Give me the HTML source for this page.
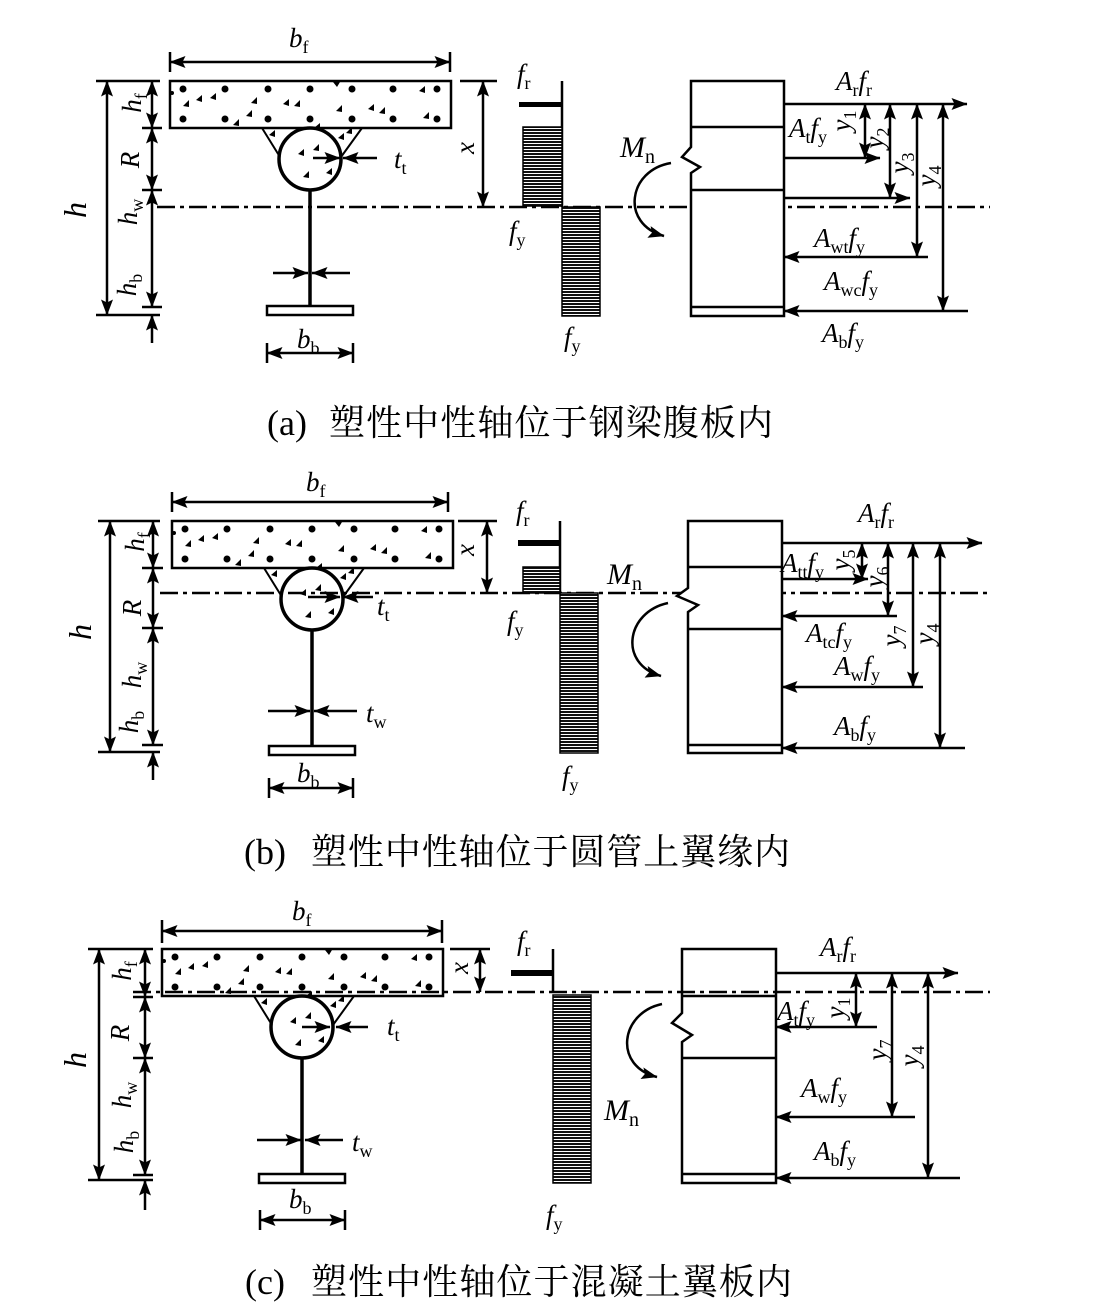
<!DOCTYPE html>
<html><head><meta charset="utf-8">
<style>
html,body{margin:0;padding:0;background:#fff;}
svg{display:block}
text{font-family:"Liberation Serif","DejaVu Serif",serif;font-size:27px;fill:#000}
.i{font-style:italic}
.s{font-size:18px;font-style:normal}
.cap{font-family:"Liberation Serif","Noto Serif CJK SC",serif;font-size:36px}
.cj{font-family:"Noto Serif CJK SC","Liberation Serif",serif;font-size:36px}
.l{stroke:#000;stroke-width:2.5;fill:none}
.d{stroke:#000;stroke-width:2.5;fill:none;marker-start:url(#a);marker-end:url(#a)}
.e{stroke:#000;stroke-width:2.5;fill:none;marker-end:url(#a)}
.na{stroke:#000;stroke-width:2.5;fill:none;stroke-dasharray:18 5 4 5}
.hat{fill:url(#hp);stroke:#000;stroke-width:1.5}
</style></head>
<body>
<svg width="1095" height="1312" viewBox="0 0 1095 1312" xmlns="http://www.w3.org/2000/svg">
<defs>
<marker id="a" viewBox="0 0 16 12" refX="15.5" refY="6" markerWidth="16" markerHeight="12" markerUnits="userSpaceOnUse" orient="auto-start-reverse"><path d="M0,0 L16,6 L0,12 L3,6 Z" fill="#000"/></marker>
<pattern id="hp" width="4" height="3" patternUnits="userSpaceOnUse"><rect width="4" height="3" fill="#fff"/><rect width="4" height="2" fill="#111"/></pattern>
<g id="sec">
<rect x="0" y="0" width="281" height="47" fill="#fff" stroke="#000" stroke-width="2.5"/>
<path d="M92,47 L110,76 M192,47 L171,76" stroke="#000" stroke-width="2" fill="none"/>
<circle cx="140" cy="78" r="31" fill="none" stroke="#000" stroke-width="3.5"/>
<line x1="140" y1="109" x2="140" y2="225" stroke="#000" stroke-width="3.5"/>
<rect x="97" y="225" width="86" height="9" fill="#fff" stroke="#000" stroke-width="2.5"/>
<g fill="#000">
<circle cx="13" cy="8" r="3.5"/><circle cx="55" cy="8" r="3.5"/><circle cx="98" cy="8" r="3.5"/><circle cx="140" cy="8" r="3.5"/><circle cx="182" cy="8" r="3.5"/><circle cx="223" cy="8" r="3.5"/><circle cx="267" cy="8" r="3.5"/>
<circle cx="13" cy="38" r="3.5"/><circle cx="55" cy="38" r="3.5"/><circle cx="98" cy="38" r="3.5"/><circle cx="140" cy="38" r="3.5"/><circle cx="182" cy="38" r="3.5"/><circle cx="223" cy="38" r="3.5"/><circle cx="267" cy="38" r="3.5"/>
<circle cx="2" cy="12" r="2"/>
<path d="M13,25 l6,-6 l0,7z M26,19 l6,-5 l0,7z M40,17 l6,-5 l0,7z M81,22 l6,-6 l0,7z M76,35 l6,-6 l0,7z M63,44 l6,-6 l0,7z M113,23 l6,-5 l0,7z M124,25 l6,-6 l0,7z M166,30 l6,-6 l0,7z M198,28 l6,-5 l0,7z M209,32 l6,-6 l0,7z M249,10 l6,-5 l0,7z M253,37 l6,-6 l0,7z M144,47 l6,-5 l0,6z M163,1 l7,0 l-3,5z M99,54 l6,-5 l0,7z M168,57 l6,-5 l0,7z M176,52 l6,-6 l0,7z M128,73 l6,-5 l0,7z M143,69 l6,-6 l0,7z M133,96 l6,-6 l0,7z M156,92 l6,-5 l0,7z"/>
</g>
</g>
</defs>

<!-- ================= PANEL (a) ================= -->
<use href="#sec" x="170" y="81"/>
<line x1="170" y1="62" x2="450" y2="62" class="d"/>
<path d="M170,52 V72 M450,52 V72" class="l"/>
<path d="M96,81 H160 M96,315 H160 M142,128 H162 M142,190 H162 M142,307 H162 M460,81 H497" class="l"/>
<line x1="107" y1="81" x2="107" y2="315" class="d"/>
<line x1="152" y1="81" x2="152" y2="128" class="d"/>
<line x1="152" y1="128" x2="152" y2="190" class="d"/>
<line x1="152" y1="190" x2="152" y2="307" class="d"/>
<line x1="152" y1="343" x2="152" y2="315" class="e"/>
<line x1="483" y1="81" x2="483" y2="207" class="d"/>
<line x1="313" y1="158" x2="340" y2="158" class="e"/>
<line x1="377" y1="158" x2="343" y2="158" class="e"/>
<line x1="273" y1="273" x2="308" y2="273" class="e"/>
<line x1="350" y1="273" x2="312" y2="273" class="e"/>
<line x1="267" y1="353" x2="353" y2="353" class="d"/>
<path d="M267,343 V363 M353,343 V363" class="l"/>
<path d="M157,207 H990" class="na"/>
<!-- stress a -->
<line x1="562" y1="81" x2="562" y2="207" class="l"/>
<rect x="519" y="102" width="43" height="5" fill="#000"/>
<rect x="523" y="127" width="39" height="79" class="hat"/>
<rect x="562" y="207" width="38" height="109" class="hat"/>
<!-- force a -->
<path d="M691,147 V81 H784 V316 H691 V173 L700,167 L682,157 Z" fill="#fff" stroke="#000" stroke-width="2.5"/>
<path d="M691,127 H784 M691,190 H784 M691,307 H784" class="l"/>
<line x1="784" y1="104" x2="967" y2="104" class="e"/>
<line x1="784" y1="158" x2="880" y2="158" class="e"/>
<line x1="784" y1="198" x2="910" y2="198" class="e"/>
<line x1="928" y1="257" x2="784" y2="257" class="e"/>
<line x1="968" y1="311" x2="784" y2="311" class="e"/>
<line x1="865" y1="104" x2="865" y2="158" class="d"/>
<line x1="890" y1="104" x2="890" y2="198" class="d"/>
<line x1="917" y1="104" x2="917" y2="257" class="d"/>
<line x1="943" y1="104" x2="943" y2="311" class="d"/>
<path d="M671,163 C628,170 620,224 664,236" class="e"/>
<!-- labels a -->
<text x="289" y="47"><tspan class="i">b</tspan><tspan class="s" dy="6">f</tspan></text>
<text transform="translate(86,210) rotate(-90)" text-anchor="middle" class="i" style="font-size:32px">h</text>
<text transform="translate(141,103) rotate(-90)" text-anchor="middle"><tspan class="i">h</tspan><tspan class="s" dy="6">f</tspan></text>
<text transform="translate(139,160) rotate(-90)" text-anchor="middle" class="i">R</text>
<text transform="translate(137,212) rotate(-90)" text-anchor="middle"><tspan class="i">h</tspan><tspan class="s" dy="6">w</tspan></text>
<text transform="translate(136,285) rotate(-90)" text-anchor="middle"><tspan class="i">h</tspan><tspan class="s" dy="6">b</tspan></text>
<text transform="translate(474,148) rotate(-90)" text-anchor="middle" class="i">x</text>
<text x="394" y="168"><tspan class="i">t</tspan><tspan class="s" dy="6">t</tspan></text>
<text x="297" y="348"><tspan class="i">b</tspan><tspan class="s" dy="6">b</tspan></text>
<text x="517" y="83"><tspan class="i">f</tspan><tspan class="s" dy="6">r</tspan></text>
<text x="509" y="240"><tspan class="i">f</tspan><tspan class="s" dy="6">y</tspan></text>
<text x="564" y="346"><tspan class="i">f</tspan><tspan class="s" dy="6">y</tspan></text>
<text x="620" y="157" style="font-size:30px"><tspan class="i">M</tspan><tspan class="s" dy="6" style="font-size:20px">n</tspan></text>
<text x="836" y="90"><tspan class="i">A</tspan><tspan class="s" dy="6">r</tspan><tspan class="i" dy="-6">f</tspan><tspan class="s" dy="6">r</tspan></text>
<text x="789" y="137"><tspan class="i">A</tspan><tspan class="s" dy="6">t</tspan><tspan class="i" dy="-6">f</tspan><tspan class="s" dy="6">y</tspan></text>
<text x="814" y="247"><tspan class="i">A</tspan><tspan class="s" dy="6">wt</tspan><tspan class="i" dy="-6">f</tspan><tspan class="s" dy="6">y</tspan></text>
<text x="824" y="290"><tspan class="i">A</tspan><tspan class="s" dy="6">wc</tspan><tspan class="i" dy="-6">f</tspan><tspan class="s" dy="6">y</tspan></text>
<text x="822" y="342"><tspan class="i">A</tspan><tspan class="s" dy="6">b</tspan><tspan class="i" dy="-6">f</tspan><tspan class="s" dy="6">y</tspan></text>
<text transform="translate(850,121) rotate(-90)" text-anchor="middle"><tspan class="i">y</tspan><tspan class="s" dy="6">1</tspan></text>
<text transform="translate(883,138) rotate(-90)" text-anchor="middle"><tspan class="i">y</tspan><tspan class="s" dy="6">2</tspan></text>
<text transform="translate(908,163) rotate(-90)" text-anchor="middle"><tspan class="i">y</tspan><tspan class="s" dy="6">3</tspan></text>
<text transform="translate(935,176) rotate(-90)" text-anchor="middle"><tspan class="i">y</tspan><tspan class="s" dy="6">4</tspan></text>
<text x="267" y="435" class="cap">(a)</text>
<text x="329" y="435" class="cj" textLength="444" lengthAdjust="spacing">塑性中性轴位于钢梁腹板内</text>

<!-- ================= PANEL (b) ================= -->
<use href="#sec" x="172" y="521"/>
<line x1="172" y1="502" x2="448" y2="502" class="d"/>
<path d="M172,492 V512 M448,492 V512" class="l"/>
<path d="M98,521 H160 M98,752 H160 M142,568 H163 M142,628 H163 M142,745 H163 M458,521 H497" class="l"/>
<line x1="110" y1="521" x2="110" y2="752" class="d"/>
<line x1="153" y1="521" x2="153" y2="568" class="d"/>
<line x1="153" y1="568" x2="153" y2="628" class="d"/>
<line x1="153" y1="628" x2="153" y2="745" class="d"/>
<line x1="153" y1="780" x2="153" y2="752" class="e"/>
<line x1="487" y1="521" x2="487" y2="593" class="d"/>
<path d="M160,593 H990" class="na"/>
<line x1="308" y1="597" x2="340" y2="597" class="e"/>
<line x1="373" y1="597" x2="343" y2="597" class="e"/>
<line x1="268" y1="711" x2="310" y2="711" class="e"/>
<line x1="357" y1="711" x2="314" y2="711" class="e"/>
<line x1="269" y1="788" x2="353" y2="788" class="d"/>
<path d="M269,778 V798 M353,778 V798" class="l"/>
<!-- stress b -->
<line x1="560" y1="521" x2="560" y2="593" class="l"/>
<rect x="518" y="540" width="42" height="6" fill="#000"/>
<rect x="523" y="567" width="37" height="26" class="hat"/>
<rect x="560" y="593" width="38" height="160" class="hat"/>
<!-- force b -->
<path d="M688,588 V521 H782 V753 H688 V612 L698,605 L677,596 Z" fill="#fff" stroke="#000" stroke-width="2.5"/>
<path d="M688,567 H782 M688,629 H782 M688,745 H782" class="l"/>
<line x1="782" y1="543" x2="982" y2="543" class="e"/>
<line x1="782" y1="579" x2="868" y2="579" class="e"/>
<line x1="897" y1="616" x2="782" y2="616" class="e"/>
<line x1="923" y1="687" x2="782" y2="687" class="e"/>
<line x1="965" y1="748" x2="782" y2="748" class="e"/>
<line x1="862" y1="543" x2="862" y2="579" class="d"/>
<line x1="888" y1="543" x2="888" y2="616" class="d"/>
<line x1="913" y1="543" x2="913" y2="687" class="d"/>
<line x1="940" y1="543" x2="940" y2="748" class="d"/>
<path d="M668,603 C626,612 618,664 661,676" class="e"/>
<!-- labels b -->
<text x="306" y="491"><tspan class="i">b</tspan><tspan class="s" dy="6">f</tspan></text>
<text transform="translate(91,632) rotate(-90)" text-anchor="middle" class="i" style="font-size:32px">h</text>
<text transform="translate(144,542) rotate(-90)" text-anchor="middle"><tspan class="i">h</tspan><tspan class="s" dy="6">f</tspan></text>
<text transform="translate(141,608) rotate(-90)" text-anchor="middle" class="i">R</text>
<text transform="translate(141,675) rotate(-90)" text-anchor="middle"><tspan class="i">h</tspan><tspan class="s" dy="6">w</tspan></text>
<text transform="translate(138,722) rotate(-90)" text-anchor="middle"><tspan class="i">h</tspan><tspan class="s" dy="6">b</tspan></text>
<text transform="translate(474,550) rotate(-90)" text-anchor="middle" class="i">x</text>
<text x="377" y="615"><tspan class="i">t</tspan><tspan class="s" dy="6">t</tspan></text>
<text x="366" y="722"><tspan class="i">t</tspan><tspan class="s" dy="6">w</tspan></text>
<text x="297" y="782"><tspan class="i">b</tspan><tspan class="s" dy="6">b</tspan></text>
<text x="516" y="520"><tspan class="i">f</tspan><tspan class="s" dy="6">r</tspan></text>
<text x="507" y="630"><tspan class="i">f</tspan><tspan class="s" dy="6">y</tspan></text>
<text x="562" y="785"><tspan class="i">f</tspan><tspan class="s" dy="6">y</tspan></text>
<text x="607" y="584" style="font-size:30px"><tspan class="i">M</tspan><tspan class="s" dy="6" style="font-size:20px">n</tspan></text>
<text x="858" y="522"><tspan class="i">A</tspan><tspan class="s" dy="6">r</tspan><tspan class="i" dy="-6">f</tspan><tspan class="s" dy="6">r</tspan></text>
<text x="781" y="572"><tspan class="i">A</tspan><tspan class="s" dy="6">tt</tspan><tspan class="i" dy="-6">f</tspan><tspan class="s" dy="6">y</tspan></text>
<text x="806" y="642"><tspan class="i">A</tspan><tspan class="s" dy="6">tc</tspan><tspan class="i" dy="-6">f</tspan><tspan class="s" dy="6">y</tspan></text>
<text x="834" y="675"><tspan class="i">A</tspan><tspan class="s" dy="6">w</tspan><tspan class="i" dy="-6">f</tspan><tspan class="s" dy="6">y</tspan></text>
<text x="834" y="735"><tspan class="i">A</tspan><tspan class="s" dy="6">b</tspan><tspan class="i" dy="-6">f</tspan><tspan class="s" dy="6">y</tspan></text>
<text transform="translate(849,560) rotate(-90)" text-anchor="middle"><tspan class="i">y</tspan><tspan class="s" dy="6">5</tspan></text>
<text transform="translate(883,577) rotate(-90)" text-anchor="middle"><tspan class="i">y</tspan><tspan class="s" dy="6">6</tspan></text>
<text transform="translate(900,636) rotate(-90)" text-anchor="middle"><tspan class="i">y</tspan><tspan class="s" dy="6">7</tspan></text>
<text transform="translate(933,634) rotate(-90)" text-anchor="middle"><tspan class="i">y</tspan><tspan class="s" dy="6">4</tspan></text>
<text x="244" y="864" class="cap">(b)</text>
<text x="311" y="864" class="cj" textLength="479" lengthAdjust="spacing">塑性中性轴位于圆管上翼缘内</text>

<!-- ================= PANEL (c) ================= -->
<use href="#sec" x="162" y="949"/>
<line x1="162" y1="931" x2="442" y2="931" class="d"/>
<path d="M162,920 V943 M442,920 V943" class="l"/>
<path d="M88,949 H153 M88,1180 H153 M133,997 H153 M133,1058 H153 M133,1175 H153 M450,949 H490" class="l"/>
<line x1="99" y1="949" x2="99" y2="1180" class="d"/>
<line x1="145" y1="949" x2="145" y2="997" class="d"/>
<line x1="145" y1="997" x2="145" y2="1058" class="d"/>
<line x1="145" y1="1058" x2="145" y2="1175" class="d"/>
<line x1="145" y1="1210" x2="145" y2="1180" class="e"/>
<line x1="480" y1="949" x2="480" y2="992" class="d"/>
<line x1="302" y1="1027" x2="330" y2="1027" class="e"/>
<line x1="368" y1="1027" x2="336" y2="1027" class="e"/>
<line x1="257" y1="1140" x2="301" y2="1140" class="e"/>
<line x1="343" y1="1140" x2="305" y2="1140" class="e"/>
<line x1="260" y1="1220" x2="345" y2="1220" class="d"/>
<path d="M260,1210 V1230 M345,1210 V1230" class="l"/>
<!-- stress c -->
<line x1="553" y1="949" x2="553" y2="992" class="l"/>
<rect x="511" y="970" width="42" height="6" fill="#000"/>
<rect x="553" y="995" width="38" height="188" class="hat"/>
<!-- force c -->
<path d="M682,1013 V949 H776 V1183 H682 V1042 L692,1035 L672,1023 Z" fill="#fff" stroke="#000" stroke-width="2.5"/>
<path d="M682,996 H776 M682,1058 H776 M682,1174 H776" class="l"/>
<path d="M133,992 H990" class="na"/>
<line x1="776" y1="973" x2="958" y2="973" class="e"/>
<line x1="877" y1="1027" x2="776" y2="1027" class="e"/>
<line x1="915" y1="1117" x2="776" y2="1117" class="e"/>
<line x1="960" y1="1178" x2="776" y2="1178" class="e"/>
<line x1="856" y1="973" x2="856" y2="1027" class="d"/>
<line x1="892" y1="973" x2="892" y2="1117" class="d"/>
<line x1="928" y1="973" x2="928" y2="1178" class="d"/>
<path d="M662,1004 C620,1013 613,1066 657,1077" class="e"/>
<!-- labels c -->
<text x="292" y="920"><tspan class="i">b</tspan><tspan class="s" dy="6">f</tspan></text>
<text transform="translate(86,1060) rotate(-90)" text-anchor="middle" class="i" style="font-size:32px">h</text>
<text transform="translate(131,971) rotate(-90)" text-anchor="middle"><tspan class="i">h</tspan><tspan class="s" dy="6">f</tspan></text>
<text transform="translate(129,1033) rotate(-90)" text-anchor="middle" class="i">R</text>
<text transform="translate(131,1095) rotate(-90)" text-anchor="middle"><tspan class="i">h</tspan><tspan class="s" dy="6">w</tspan></text>
<text transform="translate(133,1142) rotate(-90)" text-anchor="middle"><tspan class="i">h</tspan><tspan class="s" dy="6">b</tspan></text>
<text transform="translate(468,968) rotate(-90)" text-anchor="middle" class="i">x</text>
<text x="387" y="1035"><tspan class="i">t</tspan><tspan class="s" dy="6">t</tspan></text>
<text x="352" y="1151"><tspan class="i">t</tspan><tspan class="s" dy="6">w</tspan></text>
<text x="289" y="1208"><tspan class="i">b</tspan><tspan class="s" dy="6">b</tspan></text>
<text x="517" y="950"><tspan class="i">f</tspan><tspan class="s" dy="6">r</tspan></text>
<text x="546" y="1224"><tspan class="i">f</tspan><tspan class="s" dy="6">y</tspan></text>
<text x="604" y="1120" style="font-size:30px"><tspan class="i">M</tspan><tspan class="s" dy="6" style="font-size:20px">n</tspan></text>
<text x="820" y="956"><tspan class="i">A</tspan><tspan class="s" dy="6">r</tspan><tspan class="i" dy="-6">f</tspan><tspan class="s" dy="6">r</tspan></text>
<text x="777" y="1020"><tspan class="i">A</tspan><tspan class="s" dy="6">t</tspan><tspan class="i" dy="-6">f</tspan><tspan class="s" dy="6">y</tspan></text>
<text x="801" y="1097"><tspan class="i">A</tspan><tspan class="s" dy="6">w</tspan><tspan class="i" dy="-6">f</tspan><tspan class="s" dy="6">y</tspan></text>
<text x="814" y="1160"><tspan class="i">A</tspan><tspan class="s" dy="6">b</tspan><tspan class="i" dy="-6">f</tspan><tspan class="s" dy="6">y</tspan></text>
<text transform="translate(844,1008) rotate(-90)" text-anchor="middle"><tspan class="i">y</tspan><tspan class="s" dy="6">1</tspan></text>
<text transform="translate(886,1050) rotate(-90)" text-anchor="middle"><tspan class="i">y</tspan><tspan class="s" dy="6">7</tspan></text>
<text transform="translate(918,1056) rotate(-90)" text-anchor="middle"><tspan class="i">y</tspan><tspan class="s" dy="6">4</tspan></text>
<text x="245" y="1294" class="cap">(c)</text>
<text x="311" y="1294" class="cj" textLength="481" lengthAdjust="spacing">塑性中性轴位于混凝土翼板内</text>
</svg>
</body></html>
